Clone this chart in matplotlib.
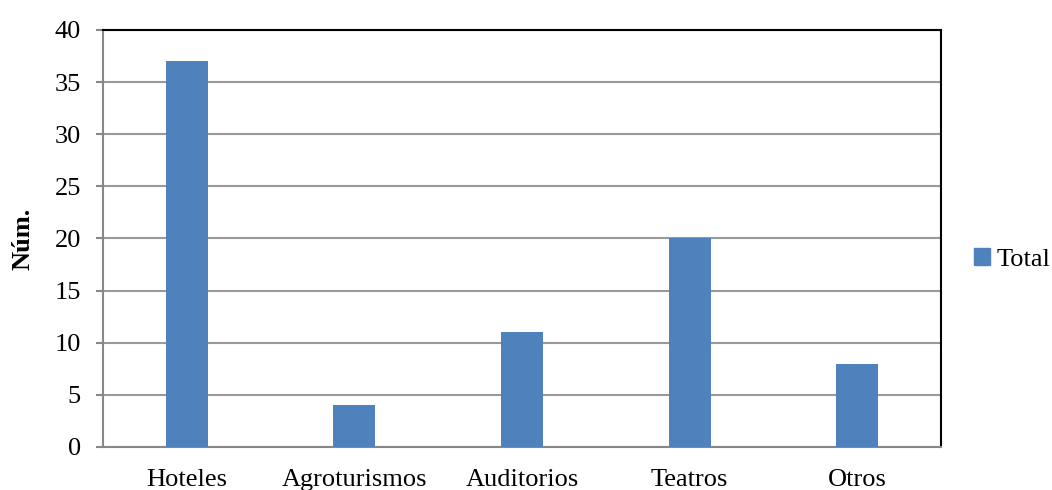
import matplotlib.pyplot as plt
from matplotlib.patches import Patch

categorias = ['Hoteles', 'Agroturismos', 'Auditorios', 'Teatros', 'Otros']
totales = [37, 4, 11, 20, 8]
ticks_y = [0, 5, 10, 15, 20, 25, 30, 35, 40]

plt.rcParams['font.family'] = ['Liberation Serif', 'DejaVu Serif']

fig = plt.figure(figsize=(10.52, 4.9), dpi=100)
ax = fig.add_axes([0.0979, 0.0878, 0.7966, 0.851])

color_barra = '#4F81BD'
ax.bar(range(len(categorias)), totales, width=0.25, color=color_barra, zorder=3)

ax.set_xlim(-0.5, len(categorias) - 0.5)
ax.set_ylim(0, 40)
ax.set_yticks(ticks_y)
ax.set_yticklabels([str(t) for t in ticks_y], fontsize=19)
ax.set_xticks(range(len(categorias)))
ax.set_xticklabels(categorias, fontsize=19)
ax.tick_params(axis='x', length=0, pad=16)
ax.tick_params(axis='y', length=5, width=1.5, color='#888888', pad=11)

ax.grid(axis='y', color='#999999', linewidth=1.5, zorder=0)
for lado in ['top', 'right']:
    ax.spines[lado].set_color('black')
    ax.spines[lado].set_linewidth(1.5)
for lado in ['left', 'bottom']:
    ax.spines[lado].set_color('#888888')
    ax.spines[lado].set_linewidth(1.5)

ax.set_ylabel('Núm.', fontsize=19, fontweight='bold', labelpad=14)

fig.legend(handles=[Patch(color=color_barra, label='Total')], loc='center left',
           bbox_to_anchor=(0.926, 0.47), frameon=False, fontsize=19,
           borderpad=0, borderaxespad=0,
           handlelength=0.6, handleheight=0.6, handletextpad=0.25)

fig.savefig('out.png', dpi=100)
